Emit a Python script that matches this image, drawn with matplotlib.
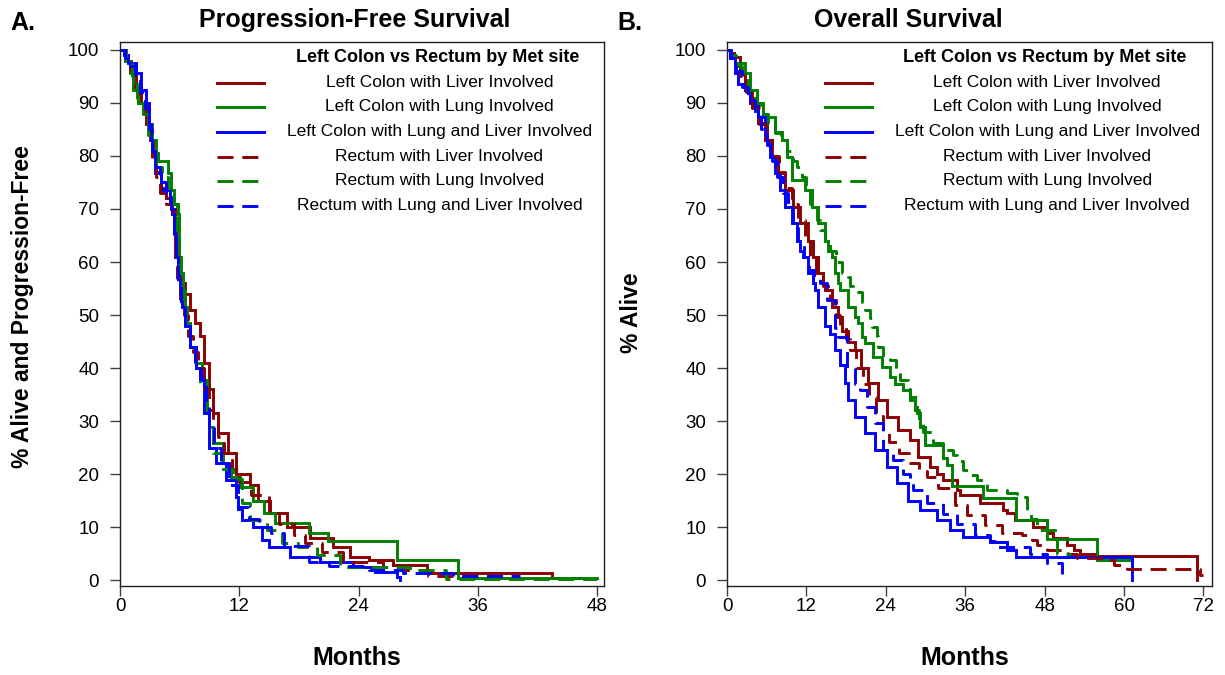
import matplotlib
matplotlib.use("Agg")
import matplotlib.pyplot as plt

# ---- data -----------------------------------------------------------
# Progression-free survival, months / % alive and progression-free
pfs_lc_liver_t = [0, 0.6, 1.1, 1.6, 2.1, 2.6, 3.0, 3.3, 3.6, 4.1, 4.6, 5.1, 5.5, 5.8, 6.2, 6.5,
                  7.0, 7.5, 8.0, 8.4, 8.9, 9.4, 9.9, 10.9, 11.7, 13.1, 13.9, 15.1, 16.8, 19.1,
                  21.4, 23.1, 25.0, 27.5, 30.9, 43.5, 46.3]
pfs_lc_liver_s = [100, 98, 96, 93, 90, 86, 83, 80, 77, 74, 72, 70, 61, 58, 56, 54,
                  51, 48.5, 46, 41, 36, 31.5, 27.7, 24, 20, 18, 15, 12.6, 10, 8,
                  6.2, 4.3, 3.8, 2.8, 1.3, 0.4, 0.4]

pfs_lc_lung_t = [0, 0.5, 1.0, 1.3, 1.8, 2.4, 2.8, 3.2, 3.6, 3.8, 4.8, 5.1, 5.4, 5.8, 5.9, 6.1,
                 6.3, 6.5, 6.7, 7.0, 7.6, 8.2, 8.7, 9.0, 9.4, 10.4, 11.2, 12.1, 13.4, 14.5,
                 15.6, 19.0, 20.9, 27.9, 34.0, 48.0]
pfs_lc_lung_s = [100, 98, 95.6, 92.5, 90, 88, 86, 83, 80.5, 79, 76.8, 73.6, 71, 69, 61, 58,
                 54.7, 51.5, 48.5, 44, 41, 37.7, 31.5, 28.9, 25.8, 22, 19.5, 17.5, 15, 12.6,
                 10.8, 8.8, 7.4, 3.8, 0.4, 0.4]

pfs_lc_both_t = [0, 0.4, 0.8, 1.6, 2.1, 2.6, 2.9, 3.1, 3.2, 3.5, 4.1, 5.0, 5.2, 5.4, 5.6, 5.8,
                 6.0, 6.2, 6.5, 7.0, 7.6, 8.2, 8.4, 9.0, 9.7, 10.7, 11.7, 11.9, 12.3, 13.4,
                 14.3, 15.0, 17.1, 20.1, 23.4, 25.7, 27.9, 28.2]
pfs_lc_both_s = [100, 99, 97.5, 95.6, 92.5, 90, 86, 83, 80.5, 76.8, 73.6, 71, 69, 65.5, 61, 58,
                 54.7, 51.5, 48, 44, 40, 37.7, 31.5, 25, 22, 18.9, 15.7, 13.5, 11.3, 10,
                 7.5, 6.2, 4.3, 3.4, 2.5, 1.5, 0.6, 0]

pfs_re_liver_t = [0, 0.5, 1.0, 1.5, 2.0, 2.5, 2.9, 3.2, 3.6, 4.0, 4.6, 5.2, 5.5, 5.7, 6.0, 6.4,
                  6.8, 7.3, 7.8, 8.4, 8.9, 9.4, 9.9, 10.5, 11.3, 12.0, 13.2, 15.0, 16.0, 17.5,
                  18.6, 20.3, 22.4, 26.5, 28.5, 31.0, 40.0]
pfs_re_liver_s = [100, 98.5, 96, 93, 90, 87, 83, 79, 76, 73, 71, 69, 62, 57, 53, 50,
                  46, 43, 40, 36, 32, 30, 27, 24, 21, 18.5, 16, 12.6, 10.5, 8.5,
                  7, 5.3, 3.4, 2.5, 1.9, 0.8, 0.8]

pfs_re_lung_t = [0, 0.6, 1.2, 1.7, 2.3, 2.8, 3.2, 3.6, 4.2, 4.8, 5.3, 5.7, 5.9, 6.2, 6.6, 7.0,
                 7.5, 8.0, 8.6, 9.0, 9.4, 10.2, 11.4, 12.3, 13.1, 14.8, 16.3, 17.9, 19.8, 22.1,
                 29.2, 32.8, 48.0]
pfs_re_lung_s = [100, 98, 95, 91, 88, 84, 81, 78, 76, 74, 71, 66, 58, 53, 48, 45,
                 41, 37, 33, 29, 24, 21, 19, 14.5, 11.3, 9.4, 7, 6.2, 4.7, 2.5,
                 1.9, 0.3, 0.3]

pfs_re_both_t = [0, 0.5, 1.0, 1.5, 2.0, 2.5, 2.9, 3.2, 3.5, 4.0, 4.6, 5.1, 5.4, 5.6, 5.8, 6.1,
                 6.5, 7.0, 7.5, 8.0, 8.6, 9.0, 9.5, 10.2, 11.0, 11.9, 13.0, 14.0, 15.2, 16.5,
                 19.0, 21.0, 25.0, 28.5, 33.5, 40.2]
pfs_re_both_s = [100, 98.5, 97, 95, 92, 89, 85, 81, 78, 75, 72, 70, 64, 60, 56, 52,
                 48.5, 45, 41, 38, 33, 29, 25, 22, 18, 13.8, 11.5, 10, 8.8, 6.5,
                 3.4, 2.7, 2.0, 1.3, 0.8, 0.8]

# Overall survival, months / % alive
os_lc_liver_t = [0, 0.5, 1.0, 2.0, 2.7, 3.8, 4.7, 6.0, 6.8, 7.7, 8.8, 10.0, 11.0, 12.2, 13.0,
                 13.8, 14.5, 14.8, 15.9, 16.8, 17.4, 18.3, 19.3, 20.3, 21.3, 22.8, 24.2, 25.8,
                 27.6, 28.9, 30.7, 31.8, 32.6, 34.7, 35.2, 38.2, 41.7, 42.3, 43.5, 46.2, 48.3,
                 49.3, 51.4, 52.4, 53.3, 55.9, 71.0]
os_lc_liver_s = [100, 99.5, 98.7, 95.6, 92.5, 89.2, 86.2, 83, 79.8, 76.8, 73.6, 70.4, 67.4, 64, 61,
                 58, 56, 54.7, 51.5, 49.6, 47, 45, 43.4, 40, 37.2, 34, 30.8, 28.3,
                 26.4, 23.2, 21.3, 20, 18.9, 17, 16, 14.5, 13.2, 12.6, 11.3, 10, 8.9,
                 7.9, 6.6, 5.7, 5, 4.5, 0]

os_lc_lung_t = [0, 0.5, 1.2, 2.7, 3.5, 4.5, 5.4, 7.3, 8.3, 9.1, 9.8, 11.8, 12.8, 13.8, 14.8,
                15.3, 15.8, 16.3, 16.8, 17.1, 18.3, 19.3, 19.8, 20.4, 20.8, 22.0, 23.4, 24.6,
                25.4, 26.6, 27.6, 28.4, 28.7, 29.2, 29.9, 32.6, 33.2, 34.0, 38.7, 43.6, 48.3,
                55.9, 61.2]
os_lc_lung_s = [100, 99, 97.5, 95.6, 92.5, 90, 87.4, 84.5, 83, 79.8, 75.5, 73.6, 70.4, 67.4, 64,
                62, 61, 58, 56, 54.7, 51.5, 49.6, 48.5, 45.8, 44.7, 42, 40.2, 38.3,
                37, 35.8, 34, 32, 31.5, 28.9, 25.5, 23, 21.7, 17.7, 15.5, 11.3, 7.7,
                3.8, 3.8]

os_lc_both_t = [0, 0.5, 1.2, 1.7, 2.7, 3.5, 4.7, 5.7, 6.5, 7.3, 8.0, 8.8, 9.8, 10.6, 11.0,
                11.5, 12.2, 13.0, 13.3, 13.8, 14.8, 15.5, 16.3, 17.0, 17.8, 18.3, 19.3, 20.8,
                22.4, 24.2, 25.7, 27.3, 29.2, 31.7, 33.7, 35.6, 39.7, 42.3, 43.6, 61.2]
os_lc_both_s = [100, 98.5, 95.6, 93.5, 92.5, 90, 87.4, 83, 79.8, 76.8, 73.6, 70.4, 67.4, 64, 62,
                61, 58, 56, 54.7, 51.5, 48, 46.5, 43.4, 40.5, 37.2, 34, 30.8, 27.7,
                24.5, 21.3, 18.3, 15, 13.2, 11.3, 9.4, 8.1, 7.2, 5.7, 4.3, 0]

os_re_liver_t = [0, 0.6, 1.2, 2.0, 2.8, 3.8, 4.8, 5.8, 6.8, 7.8, 8.8, 9.8, 10.8, 11.8, 12.6,
                 13.5, 14.5, 15.6, 16.4, 17.1, 18.0, 18.6, 19.5, 20.5, 21.5, 22.5, 23.5, 24.5,
                 26.0, 27.5, 29.0, 30.2, 31.9, 34.4, 36.3, 39.0, 41.5, 44.6, 46.1, 46.8, 48.3,
                 51.5, 52.9, 57.4, 58.5, 60.4, 71.5, 72.0]
os_re_liver_s = [100, 99, 97, 95, 92, 89, 86, 83, 80, 77, 74, 71, 68, 64.5, 61,
                 58, 55.5, 52.8, 50, 47.7, 45.5, 43.4, 40, 37, 34.5, 31, 28, 26,
                 24, 22, 20.5, 19.4, 17.4, 14.2, 12.3, 10.4, 8.9, 8.5, 7.5, 6.6, 5.7,
                 5, 4.2, 3.8, 2.8, 2.1, 1.0, 1.0]

os_re_lung_t = [0, 0.6, 1.3, 2.2, 3.2, 4.2, 5.2, 6.2, 7.2, 8.2, 9.1, 10.0, 10.6, 11.3, 12.0,
                12.5, 13.0, 13.6, 14.0, 14.8, 15.6, 16.5, 17.4, 18.3, 18.6, 19.1, 20.4, 20.8,
                21.6, 21.9, 22.7, 22.8, 23.6, 24.6, 25.5, 26.1, 27.3, 27.6, 28.7, 29.0, 29.6,
                31.1, 32.6, 34.1, 34.7, 35.6, 36.7, 37.8, 39.3, 42.3, 43.8, 45.3, 46.0, 46.8,
                49.8, 52.0]
os_re_lung_s = [100, 99, 97, 95, 92.5, 90, 88, 86, 84.3, 83, 81, 79, 78, 76, 73.5,
                71, 70, 68, 66, 64, 62, 60, 58, 57.2, 55.5, 54.3, 52.5, 51,
                49.5, 47.7, 46, 44, 42.5, 41.5, 39.5, 37.7, 36, 34.5, 32, 30, 28,
                25.8, 24.5, 23.6, 22.5, 20.8, 19.9, 18.9, 17, 16.5, 15.7, 13.2, 11.5, 9.4,
                5.0, 5.0]

os_re_both_t = [0, 0.6, 1.3, 2.2, 3.2, 4.2, 5.2, 6.0, 6.8, 7.6, 8.4, 9.2, 10.0, 10.8, 11.6,
                12.4, 13.2, 14.0, 15.1, 16.3, 16.8, 18.1, 19.3, 20.1, 21.1, 22.4, 23.6, 25.1,
                26.6, 27.6, 28.1, 30.2, 32.6, 34.7, 37.5, 39.7, 40.5, 45.8, 48.3, 50.6]
os_re_both_s = [100, 98.5, 96, 93, 90.5, 88, 85, 82, 79, 76, 73, 70, 67, 64, 61,
                58.5, 57, 56, 52.8, 47.5, 45.8, 40, 37, 35.8, 32.6, 29.6, 24.5, 22.6,
                20, 18.9, 17, 14.6, 12.5, 10.6, 8.5, 7.4, 6.2, 5, 3.2, 0]

legend_title = "Left Colon vs Rectum by Met site"
group_labels = ["Left Colon with Liver Involved",
                "Left Colon with Lung Involved",
                "Left Colon with Lung and Liver Involved",
                "Rectum with Liver Involved",
                "Rectum with Lung Involved",
                "Rectum with Lung and Liver Involved"]
group_colors = ["#8B0000", "#008000", "#0000FF", "#8B0000", "#008000", "#0000FF"]
DASH = (0, (5.5, 3.0))
group_styles = ["-", "-", "-", DASH, DASH, DASH]

pfs_curves = [(pfs_lc_liver_t, pfs_lc_liver_s), (pfs_lc_lung_t, pfs_lc_lung_s),
              (pfs_lc_both_t, pfs_lc_both_s), (pfs_re_liver_t, pfs_re_liver_s),
              (pfs_re_lung_t, pfs_re_lung_s), (pfs_re_both_t, pfs_re_both_s)]
os_curves = [(os_lc_liver_t, os_lc_liver_s), (os_lc_lung_t, os_lc_lung_s),
             (os_lc_both_t, os_lc_both_s), (os_re_liver_t, os_re_liver_s),
             (os_re_lung_t, os_re_lung_s), (os_re_both_t, os_re_both_s)]

# ---- figure ---------------------------------------------------------
plt.rcParams['font.family'] = ['Liberation Sans', 'DejaVu Sans']

fig = plt.figure(figsize=(12.25, 6.75), dpi=100)
ax_l = fig.add_axes([0.0980, 0.1319, 0.3951, 0.8059])
ax_r = fig.add_axes([0.5935, 0.1319, 0.3959, 0.8059])


def draw_panel(ax, curves, xmax, xticks, title, title_x, ylabel, ylab_xy, letter, letter_x):
    for (t, s), col, ls in zip(curves, group_colors, group_styles):
        ax.step(t, s, where='post', color=col, lw=2.1, ls=ls, solid_joinstyle='miter')

    ax.set_xlim(0, xmax)
    ax.set_ylim(-1.1, 101.5)
    ax.set_xticks(xticks)
    ax.set_yticks(range(0, 101, 10))
    ax.tick_params(axis='both', direction='out', length=7, width=1, color='#404040',
                   labelsize=13.5)
    ax.tick_params(axis='x', pad=2)
    ax.tick_params(axis='y', pad=8)
    for sp in ax.spines.values():
        sp.set_color('#202020')
        sp.set_linewidth(1)

    ax.set_xlabel("Months", fontsize=18, fontweight='bold', va='center')
    ax.xaxis.set_label_coords(0.49, -0.132)
    ax.set_ylabel(ylabel, fontsize=16.5, fontweight='bold', va='center')
    ax.yaxis.set_label_coords(*ylab_xy)

    ax.text(title_x, 1.0276, title, transform=ax.transAxes, ha='center', va='baseline',
            fontsize=18, fontweight='bold')
    fig.text(letter_x, 1 - 30 / 675, letter, ha='left', va='baseline',
             fontsize=18, fontweight='bold')

    # legend, drawn by hand so the labels sit centred as in the reference
    ax.text(0.656, 0.971, legend_title, transform=ax.transAxes, ha='center', va='center',
            fontsize=13, fontweight='bold')
    ys = [0.925, 0.8805, 0.8346, 0.7886, 0.7445, 0.6985]
    for y, lab, col, ls in zip(ys, group_labels, group_colors, group_styles):
        ax.plot([0.201, 0.298], [y, y], transform=ax.transAxes, color=col, lw=2.1, ls=ls,
                clip_on=False)
        ax.text(0.66, y, lab, transform=ax.transAxes, ha='center', va='center',
                fontsize=12.5)


draw_panel(ax_l, pfs_curves, 48.7, [0, 12, 24, 36, 48], "Progression-Free Survival", 0.4845,
           "% Alive and Progression-Free", (-0.202, 0.513), "A.", 10 / 1225)
draw_panel(ax_r, os_curves, 73.3, [0, 12, 24, 36, 48, 60, 72], "Overall Survival", 0.373,
           "% Alive", (-0.198, 0.502), "B.", 617 / 1225)

fig.savefig("out.png", dpi=100)
